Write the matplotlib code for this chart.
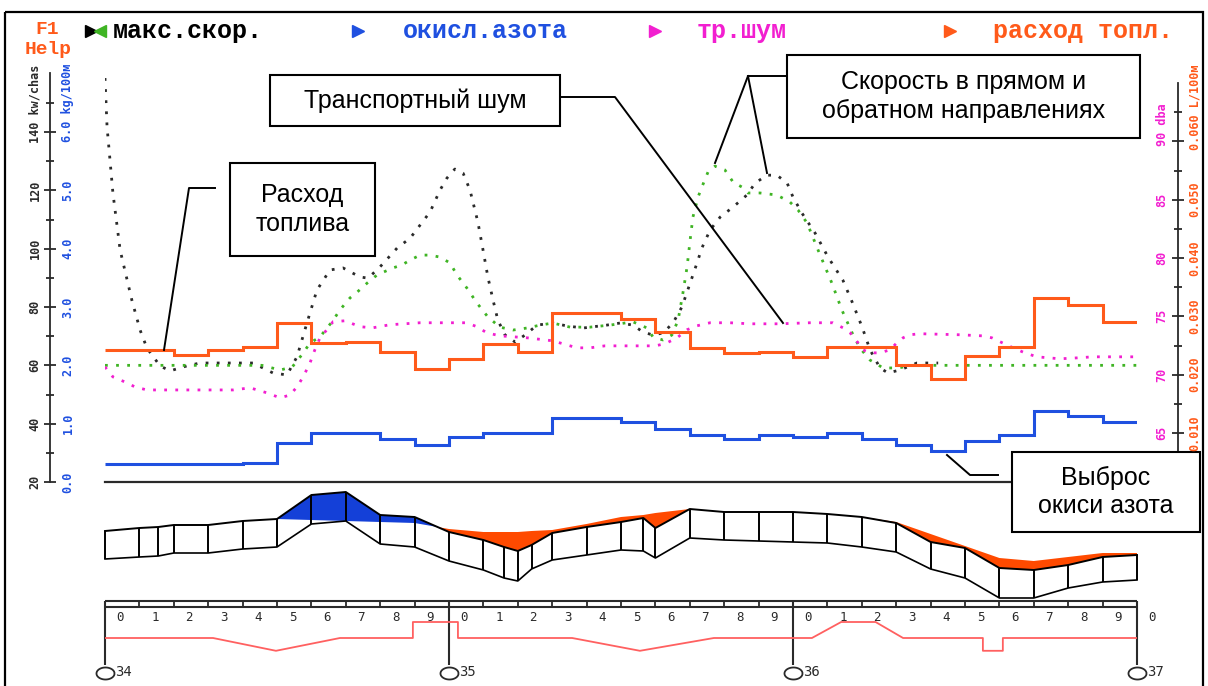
import numpy as np
import matplotlib
matplotlib.use("Agg")
import matplotlib.pyplot as plt
from matplotlib import transforms
from matplotlib.patches import Rectangle

# -------------------------
# ДАННЫЕ (участок км 34 - км 37, шаг 100 м)
# -------------------------
km_start, km_end = 34.0, 37.0
km_marks = [34, 35, 36, 37]

# расход топлива, L/100м, по отрезкам 100 м
fuel = [0.0242, 0.0242, 0.0234, 0.0242, 0.0247, 0.0289, 0.0254, 0.0256, 0.0239, 0.0210,
        0.0227, 0.0253, 0.0239, 0.0306, 0.0306, 0.0295, 0.0273, 0.0246, 0.0237, 0.0239,
        0.0230, 0.0247, 0.0247, 0.0217, 0.0193, 0.0232, 0.0247, 0.0331, 0.0319, 0.0290]

# выброс окиси азота, kg/100м
nox = [0.31, 0.31, 0.31, 0.31, 0.33, 0.67, 0.84, 0.84, 0.74, 0.63,
       0.77, 0.84, 0.84, 1.10, 1.10, 1.03, 0.91, 0.81, 0.74, 0.81,
       0.77, 0.84, 0.74, 0.63, 0.53, 0.70, 0.81, 1.22, 1.13, 1.03]

# скорость в прямом направлении, km/chas
speed_fwd_km = [34.000, 34.006, 34.023, 34.044, 34.078, 34.102, 34.122, 34.160, 34.189, 34.238,
                34.276, 34.372, 34.430, 34.488, 34.529, 34.558, 34.587, 34.616, 34.654, 34.692,
                34.741, 34.765, 34.799, 34.849, 34.887, 34.916, 34.945, 34.974, 34.994, 35.017,
                35.041, 35.061, 35.084, 35.099, 35.113, 35.128, 35.142, 35.163, 35.192, 35.221,
                35.256, 35.302, 35.343, 35.390, 35.459, 35.497, 35.535, 35.564, 35.593, 35.622,
                35.651, 35.677, 35.701, 35.721, 35.735, 35.759, 35.788, 35.826, 35.866, 35.890,
                35.924, 35.953, 35.983, 36.000, 36.026, 36.064, 36.102, 36.145, 36.172, 36.201,
                36.224, 36.253, 36.276, 36.311, 36.360, 36.422]
speed_fwd = [158.5, 141.7, 119.1, 99.5, 82.4, 72.1, 65.9, 59.8, 58.1, 59.8,
             60.8, 60.8, 60.8, 57.4, 56.7, 62.9, 74.5, 85.8, 92.7, 93.4,
             90.3, 89.9, 93.7, 100.2, 103.6, 108.1, 112.6, 120.1, 124.2, 127.3,
             125.9, 120.1, 109.1, 99.5, 90.3, 82.4, 75.5, 70.4, 68.0, 70.4,
             73.8, 74.5, 73.5, 72.8, 73.8, 74.5, 73.8, 71.4, 70.4, 71.1,
             74.5, 80.0, 88.2, 95.1, 100.2, 106.4, 110.8, 114.3, 118.4, 122.5,
             125.2, 125.2, 122.5, 117.7, 112.2, 105.4, 97.1, 89.2, 81.7, 73.1,
             65.3, 59.1, 57.4, 58.4, 60.8, 60.8]

# скорость в обратном направлении, km/chas
speed_back_km = [34.000, 34.218, 34.456, 34.509, 34.544, 34.576, 34.596, 34.625, 34.645, 34.660,
                 34.683, 34.712, 34.733, 34.762, 34.791, 34.837, 34.863, 34.887, 34.916, 34.945,
                 34.974, 35.003, 35.023, 35.052, 35.081, 35.113, 35.148, 35.186, 35.227, 35.265,
                 35.302, 35.352, 35.410, 35.468, 35.535, 35.576, 35.593, 35.622, 35.648, 35.666,
                 35.680, 35.692, 35.701, 35.709, 35.724, 35.735, 35.753, 35.773, 35.802, 35.826,
                 35.852, 35.869, 35.904, 35.953, 35.991, 36.015, 36.041, 36.073, 36.113, 36.142,
                 36.172, 36.195, 36.224, 36.262, 36.305, 36.349, 37.000]
speed_back = [60.0, 60.0, 60.0, 58.4, 59.4, 64.2, 67.7, 69.7, 72.8, 74.9,
              79.0, 83.1, 85.1, 88.2, 91.0, 93.4, 94.4, 96.1, 97.8, 97.8,
              97.1, 95.1, 91.0, 86.5, 81.4, 76.6, 73.1, 72.1, 72.8, 73.8,
              74.5, 73.1, 73.1, 73.8, 74.9, 72.8, 69.7, 68.7, 70.4, 75.5,
              84.8, 93.7, 103.0, 110.8, 117.7, 121.1, 126.3, 128.3, 127.0, 122.8,
              121.1, 119.1, 119.1, 118.4, 116.0, 113.2, 108.8, 99.5, 88.2, 79.0,
              71.1, 65.9, 61.8, 59.1, 59.1, 60.0, 60.0]

# транспортный шум, dba
noise_km = [34.000, 34.023, 34.064, 34.087, 34.122, 34.372, 34.422, 34.471, 34.509, 34.538,
            34.558, 34.576, 34.596, 34.610, 34.625, 34.645, 34.663, 34.698, 34.741, 34.779,
            34.828, 34.916, 35.052, 35.081, 35.110, 35.148, 35.227, 35.302, 35.331, 35.372,
            35.410, 35.453, 35.599, 35.628, 35.663, 35.692, 35.721, 35.759, 35.817, 35.875,
            35.962, 36.049, 36.116, 36.145, 36.166, 36.189, 36.203, 36.224, 36.253, 36.282,
            36.302, 36.320, 36.340, 36.369, 36.485, 36.549, 36.578, 36.602, 36.640, 36.674,
            36.709, 36.776, 36.826, 36.872, 37.000]
noise = [70.67, 69.81, 69.30, 68.95, 68.69, 68.69, 68.87, 68.44, 68.01, 68.26,
         68.95, 69.81, 71.01, 72.13, 73.16, 73.85, 74.54, 74.62, 74.11, 74.02,
         74.28, 74.45, 74.45, 74.11, 73.59, 73.33, 73.16, 72.90, 72.65, 72.30,
         72.30, 72.47, 72.47, 72.65, 73.16, 73.85, 74.19, 74.45, 74.45, 74.36,
         74.36, 74.45, 74.45, 74.02, 73.59, 72.73, 72.13, 71.87, 71.87, 72.13,
         72.73, 73.16, 73.42, 73.51, 73.42, 73.33, 73.16, 72.82, 72.30, 71.87,
         71.53, 71.36, 71.44, 71.53, 71.53]

# продольный профиль: верх, низ и проектная линия, м
prof_km = [34.000, 34.100, 34.155, 34.200, 34.300, 34.400, 34.500, 34.600, 34.700, 34.800,
           34.900, 35.000, 35.100, 35.160, 35.200, 35.240, 35.300, 35.400, 35.500, 35.565,
           35.600, 35.700, 35.800, 35.900, 36.000, 36.100, 36.200, 36.300, 36.400, 36.500,
           36.600, 36.700, 36.800, 36.900, 37.000]
prof_top = [6.9, 7.2, 7.3, 7.5, 7.5, 7.9, 8.1, 10.5, 10.8, 8.5,
            8.3, 6.8, 6.0, 5.3, 4.9, 5.5, 6.7, 7.3, 7.8, 8.2,
            7.2, 9.1, 8.8, 8.8, 8.8, 8.6, 8.3, 7.7, 5.8, 5.2,
            3.2, 3.0, 3.5, 4.3, 4.5]
prof_bottom = [4.1, 4.3, 4.4, 4.7, 4.7, 5.1, 5.3, 7.6, 7.9, 5.6,
               5.3, 3.9, 3.0, 2.2, 1.9, 3.1, 4.0, 4.5, 5.0, 4.9,
               4.2, 6.2, 6.0, 5.9, 5.8, 5.7, 5.3, 4.8, 3.1, 2.2,
               0.2, 0.2, 1.2, 1.8, 2.0]
prof_design = [6.9, 7.2, 7.3, 7.5, 7.5, 7.9, 8.1, 8.0, 7.9, 7.8,
               7.7, 7.1, 6.8, 6.8, 6.8, 6.9, 7.0, 7.6, 8.3, 8.5,
               8.7, 9.1, 8.8, 8.8, 8.8, 8.6, 8.3, 7.8, 6.6, 5.4,
               4.2, 3.9, 4.3, 4.7, 4.7]

# план трассы (кривизна, условно)
plan_km = [34.000, 34.314, 34.497, 34.683, 34.895, 34.895, 35.026, 35.026, 35.358, 35.555,
           35.770, 36.055, 36.140, 36.240, 36.320, 36.552, 36.552, 36.610, 36.610, 37.000]
plan = [0, 0, -0.8, 0, 0, 1, 1, 0, 0, -0.8,
        0, 0, 1, 1, 0, 0, -0.8, -0.8, 0, 0]

# -------------------------
# ЦВЕТА И ШРИФТЫ
# -------------------------
c_black = "#2a2a2a"
c_green = "#3fb424"
c_blue = "#1f50e0"
c_magenta = "#f21fd0"
c_orange = "#ff5a1a"
c_fill_blue = "#1440d8"
c_fill_orange = "#ff4a00"
c_plan = "#ff6060"
mono = "DejaVu Sans Mono"
legend_font = "Liberation Mono"
note_font = "Liberation Sans"

W, H = 1208, 686


def rect(x0, y0, x1, y1):
    return [x0 / W, 1 - y1 / H, (x1 - x0) / W, (y1 - y0) / H]


fig = plt.figure(figsize=(W / 100, H / 100), dpi=100)

# -------------------------
# ВЕРХНИЙ ГРАФИК
# -------------------------
px_top, px_base = 70, 482
step_px = 58.33          # пикселей на одно деление шкалы
span = px_base - px_top

ax = fig.add_axes(rect(105, px_top, 1137, px_base))
ax.set_xlim(km_start, km_end)
ax.set_ylim(20, 20 + span * 20 / step_px)

ax_nox = ax.twinx()
ax_nox.set_ylim(0, span / step_px)

ax_noise = ax.twinx()
n0 = 65 - 49 * 5 / step_px
ax_noise.set_ylim(n0, n0 + span * 5 / step_px)

ax_fuel = ax.twinx()
f0 = 0.01 - 49 * 0.01 / step_px
ax_fuel.set_ylim(f0, f0 + span * 0.01 / step_px)

for a in (ax, ax_nox, ax_noise, ax_fuel):
    for s in a.spines.values():
        s.set_visible(False)
    a.set_xticks([])
    a.tick_params(axis="y", which="both", left=False, right=False,
                  labelleft=False, labelright=False)
ax.patch.set_visible(False)

# левая шкала (скорость / окись азота)
ax.spines["left"].set_visible(True)
ax.spines["left"].set_position(("axes", (50 - 105) / 1032))
ax.spines["left"].set_bounds(20, 160.2)
ax.spines["left"].set_linewidth(1.3)
ax.spines["left"].set_color(c_black)
ax.set_yticks(np.arange(20, 141, 20))
ax.set_yticks(np.arange(30, 151, 20), minor=True)
ax.tick_params(axis="y", which="major", left=True, direction="inout",
               length=9, width=1.3, color=c_black)
ax.tick_params(axis="y", which="minor", left=True, direction="inout",
               length=6, width=1.3, color=c_black)

# правая шкала (шум / расход)
sp = ax_noise.spines["right"]
sp.set_visible(True)
sp.set_position(("axes", (1178 - 105) / 1032))
sp.set_bounds(n0, 95.0)
sp.set_linewidth(1.3)
sp.set_color(c_black)
ax_noise.set_yticks(np.arange(65, 91, 5))
ax_noise.set_yticks(np.arange(67.5, 93, 5), minor=True)
ax_noise.tick_params(axis="y", which="major", right=True, direction="inout",
                     length=9, width=1.3, color=c_black)
ax_noise.tick_params(axis="y", which="minor", right=True, direction="inout",
                     length=6, width=1.3, color=c_black)

# кривые
dots = (1, 3)
ax.plot(speed_fwd_km, speed_fwd, color=c_black, lw=2.0, dashes=dots)
ax.plot(speed_back_km, speed_back, color=c_green, lw=2.0, dashes=dots)
ax_noise.plot(noise_km, noise, color=c_magenta, lw=2.0, dashes=dots)

edges = np.linspace(km_start, km_end, len(fuel) + 1)
ax_nox.stairs(nox, edges, baseline=None, color=c_blue, lw=2.2)
ax_fuel.stairs(fuel, edges, baseline=None, color=c_orange, lw=2.2)

# нулевая линия
ax.plot([km_start, km_end], [20, 20], color=c_black, lw=1.6, clip_on=False)

# -------------------------
# ПРОФИЛЬ
# -------------------------
ax_p = fig.add_axes(rect(105, 486, 1137, 612))
ax_p.set_xlim(km_start, km_end)
ax_p.set_ylim(-1.2, 11.4)
ax_p.axis("off")
top = np.array(prof_top)
design = np.array(prof_design)
ax_p.fill_between(prof_km, top, design, where=top >= design, interpolate=True,
                  color=c_fill_blue, lw=0)
ax_p.fill_between(prof_km, top, design, where=top <= design, interpolate=True,
                  color=c_fill_orange, lw=0)
ax_p.plot(prof_km, prof_top, color="black", lw=1.4, clip_on=False)
ax_p.plot(prof_km, prof_bottom, color="black", lw=1.2, clip_on=False)
ax_p.vlines(prof_km, prof_bottom, prof_top, color="black", lw=1.4, clip_on=False)

# -------------------------
# ПИКЕТАЖ И ПЛАН
# -------------------------
ax_s = fig.add_axes(rect(105, 596, 1137, 686))
ax_s.set_xlim(km_start, km_end)
ax_s.set_ylim(-3.0, 2.625)
ax_s.axis("off")
tr = ax_s.get_xaxis_transform()
bar_hi, bar_lo = 0.944, 0.878
ax_s.hlines([bar_hi, bar_lo], km_start, km_end, transform=tr, color=c_black,
            lw=1.5, clip_on=False)
ax_s.vlines(edges, bar_lo, bar_hi, transform=tr, color=c_black, lw=1.3, clip_on=False)
ax_s.vlines(km_marks, 0.235, bar_hi, transform=tr, color=c_black, lw=1.5, clip_on=False)
for i, e in enumerate(edges):
    ax_s.text(e + 0.045, 0.765, str(i % 10), transform=tr, ha="center", va="center",
              fontsize=9, family=mono, color=c_black)

t = np.linspace(0, 2 * np.pi, 41)
ellipse = list(zip(1.5 * np.cos(t), np.sin(t)))
ax_s.plot(km_marks, [0.15] * len(km_marks), transform=tr, ls="none", marker=ellipse,
          ms=13, mfc="white", mec=c_black, mew=1.3, clip_on=False)
lab_tr = transforms.offset_copy(tr, fig=fig, x=10, units="dots")
for k in km_marks:
    ax_s.text(k, 0.15, str(k), transform=lab_tr, ha="left", va="center",
              fontsize=10, family=mono, color=c_black)

ax_s.plot(plan_km, plan, color=c_plan, lw=1.3)

# -------------------------
# ПОДПИСИ, ЛЕГЕНДА, ВЫНОСКИ
# -------------------------
ov = fig.add_axes([0, 0, 1, 1], zorder=10)
ov.set_xlim(0, W)
ov.set_ylim(H, 0)
ov.axis("off")
ov.patch.set_visible(False)

ov.add_patch(Rectangle((5, 12), 1198, 690, fill=False, ec="black", lw=1.6))


def scale_labels(axis, values, texts, x, color, top_shift):
    trans = transforms.blended_transform_factory(ov.transData, axis.transData)
    for v, s in zip(values[:-1], texts[:-1]):
        ov.text(x, v, s, transform=trans, rotation=90, ha="center", va="center",
                fontsize=8.5, family=mono, color=color, fontweight="bold")
    tt = transforms.offset_copy(trans, fig=fig, y=-top_shift, units="dots")
    ov.text(x, values[-1], texts[-1], transform=tt, rotation=90, ha="center",
            va="bottom", fontsize=8.5, family=mono, color=color, fontweight="bold")


scale_labels(ax, [20, 40, 60, 80, 100, 120, 140],
             ["20", "40", "60", "80", "100", "120", "140 kw/chas"], 35, c_black, 11)
scale_labels(ax_nox, [0, 1, 2, 3, 4, 5, 6],
             ["0.0", "1.0", "2.0", "3.0", "4.0", "5.0", "6.0 kg/100м"], 68, c_blue, 10)
scale_labels(ax_noise, [65, 70, 75, 80, 85, 90],
             ["65", "70", "75", "80", "85", "90 dba"], 1162, c_magenta, 5)
scale_labels(ax_fuel, [0.01, 0.02, 0.03, 0.04, 0.05, 0.06],
             ["0.010", "0.020", "0.030", "0.040", "0.050", "0.060 L/100м"], 1195, c_orange, 9)

# легенда вверху
ov.text(35, 30, "F1", fontsize=14, family=legend_font, fontweight="bold",
        color=c_orange, va="center")
ov.text(25, 50, "Help", fontsize=14, family=legend_font, fontweight="bold",
        color=c_orange, va="center")
ov.plot([91], [31], marker=">", ms=8, color="black", ls="none")
ov.plot([100], [31], marker="<", ms=8, color=c_green, ls="none")
ov.plot([358], [31], marker=">", ms=8, color=c_blue, ls="none")
ov.plot([655], [31], marker=">", ms=8, color=c_magenta, ls="none")
ov.plot([950], [31], marker=">", ms=8, color=c_orange, ls="none")
for x, s, c in [(113, "макс.скор.", "black"), (403, "окисл.азота", c_blue),
                (697, "тр.шум", c_magenta), (993, "расход топл.", c_orange)]:
    ov.text(x, 31, s, fontsize=18, family=legend_font, fontweight="bold",
            color=c, va="center")


def note(x0, y0, x1, y1, text):
    ov.add_patch(Rectangle((x0, y0), x1 - x0, y1 - y0, fc="white", ec="black", lw=1.5))
    ov.text((x0 + x1) / 2, (y0 + y1) / 2, text, ha="center", va="center",
            fontsize=18, family=note_font, color="black", linespacing=1.25)


leader = dict(color="black", lw=1.4)
ov.plot([215, 189, 164], [188, 188, 350], **leader)
note(230, 163, 375, 256, "Расход\nтоплива")

ov.plot([560, 615, 783], [97, 97, 323], **leader)
note(270, 75, 560, 126, "Транспортный шум")

ov.plot([787, 748, 715], [76, 76, 163], **leader)
ov.plot([748, 767], [76, 173], **leader)
note(787, 55, 1140, 138, "Скорость в прямом и\nобратном направлениях")

ov.plot([998, 970, 947], [475, 475, 455], **leader)
note(1012, 452, 1200, 532, "Выброс\nокиси азота")

fig.savefig("out.png", dpi=100)
